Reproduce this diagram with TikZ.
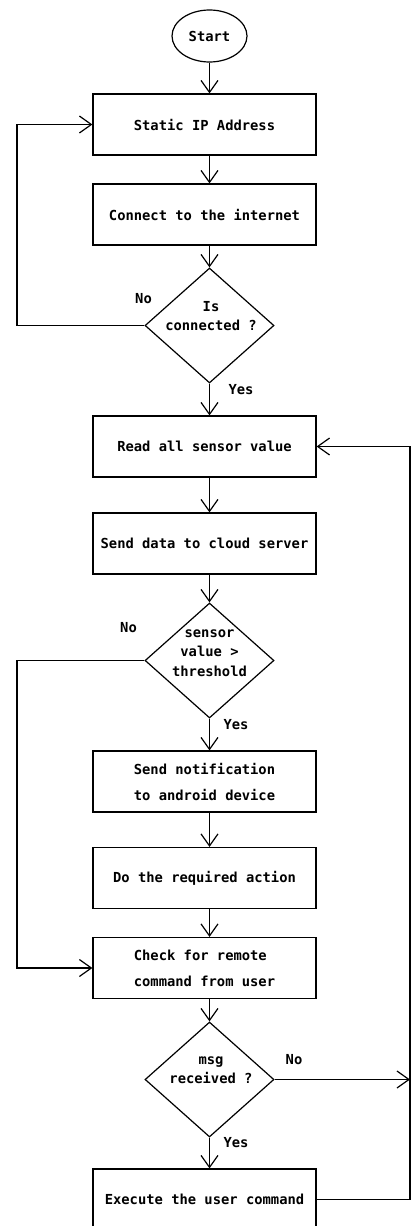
\documentclass[tikz,border=0pt]{standalone}
\usepackage{fontspec}
\setmonofont{DejaVu Sans Mono}
\usepackage{tikz}
\usetikzlibrary{shapes.geometric}
\usetikzlibrary{arrows.meta}

\begin{document}
\begin{tikzpicture}[x=1pt,y=-1pt,
    every node/.style={font=\ttfamily\bfseries\fontsize{13.8}{26}\selectfont},
    terminal/.style={draw, ellipse, line width=1.2pt, minimum width=75pt, minimum height=52pt, inner sep=0pt},
    process/.style={draw, line width=1.2pt, minimum width=223pt, minimum height=61pt, inner sep=0pt, align=center},
    decision/.style={draw, diamond, line width=1.2pt, minimum width=129pt, minimum height=115pt, inner sep=0pt},
    question/.style={inner sep=0pt, align=center, font=\ttfamily\bfseries\fontsize{13.8}{19.5}\selectfont},
    answer/.style={inner sep=0pt},
    flow/.style={line width=1.2pt, -{Straight Barb[length=12pt,width=17pt,line width=1.2pt]}}]
    \useasboundingbox (0,0) rectangle (411,1226);
    \clip (0,0) rectangle (411,1226);
    % rails for the two loops
    \coordinate (leftrail) at (17,0);
    \coordinate (rightrail) at (410,0);

    \node[terminal] (start) at (209.5,36) {Start};
    \node[process] (staticip) at (204.5,124.5) {Static IP Address};
    \node[process] (connect) at (204.5,214.5) {Connect to the internet};
    \node[decision] (isconn) at (209.5,325.5) {};
    \node[question] (isconntext) at (211,316) {Is\\connected ?};
    \node[process] (readsensor) at (204.5,446.5) {Read all sensor value};
    \node[process] (senddata) at (204.5,543.5) {Send data to cloud server};
    \node[decision] (threshold) at (209.5,660.5) {};
    \node[question] (thresholdtext) at (209.5,653) {sensor\\value >\\threshold};
    \node[process] (notify) at (204.5,781.5) {Send notification\\to android device};
    \node[process] (action) at (204.5,878) {Do the required action};
    \node[process, align=left] (remote) at (204.5,968) {Check for remote\\command from user};
    \node[decision] (msgrecv) at (209.5,1079.5) {};
    \node[question] (msgtext) at (211,1070) {msg\\received ?};
    \node[process] (execute) at (204.5,1199.5) {Execute the user command};

    % yes / no
    \node[answer] (isconnno) at (143.5,299) {No};
    \node[answer] (isconnyes) at (241,390) {Yes};
    \node[answer] (thresholdno) at (128.5,628) {No};
    \node[answer] (thresholdyes) at (236,725) {Yes};
    \node[answer] (msgno) at (294,1060) {No};
    \node[answer] (msgyes) at (236,1143) {Yes};

    \draw[flow] (start) -- (start |- staticip.north);
    \draw[flow] (staticip.south -| start) -- (connect.north -| start);
    \draw[flow] (connect.south -| start) -- (isconn.north);
    \draw[flow] (isconn.west) -- (isconn.west -| leftrail) |- (staticip.west);
    \draw[flow] (isconn.south) -- (readsensor.north -| isconn);
    \draw[flow] (readsensor.south -| isconn) -- (senddata.north -| isconn);
    \draw[flow] (senddata.south -| isconn) -- (threshold.north);
    \draw[flow] (threshold.west) -- (threshold.west -| leftrail) |- (remote.west);
    \draw[flow] (threshold.south) -- (notify.north -| threshold);
    \draw[flow] (notify.south -| threshold) -- (action.north -| threshold);
    \draw[flow] (action.south -| threshold) -- (remote.north -| threshold);
    \draw[flow] (remote.south -| msgrecv) -- (msgrecv.north);
    \draw[flow] (msgrecv.south) -- (execute.north -| msgrecv);
    \draw[flow] (msgrecv.east) -- (msgrecv.east -| rightrail);
    \draw[flow] (execute.east) -- (execute.east -| rightrail) |- (readsensor.east);
\end{tikzpicture}
\end{document}
